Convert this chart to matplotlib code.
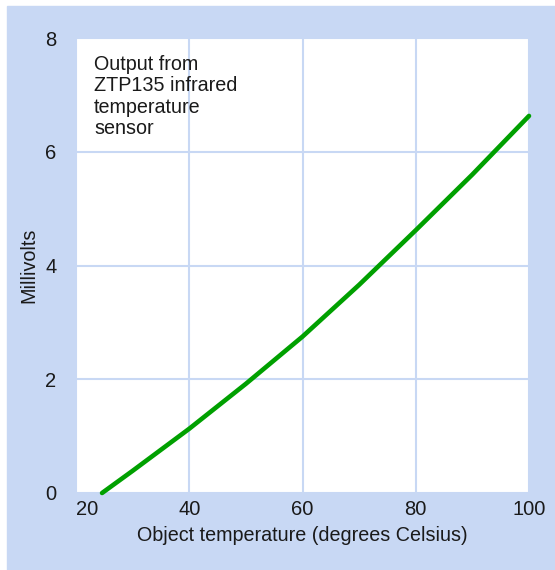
import matplotlib.pyplot as plt
from matplotlib.patches import Rectangle

# sensor output
temp_c = [24.6, 30, 40, 50, 60, 70, 80, 90, 100]
millivolts = [0.0, 0.39, 1.13, 1.92, 2.75, 3.66, 4.62, 5.60, 6.63]

x_ticks = [20, 40, 60, 80, 100]
y_ticks = [0, 2, 4, 6, 8]

blue = '#c8d8f4'
green = '#00a000'
ink = '#1a1a1a'

plt.rcParams['font.family'] = ['Liberation Sans', 'DejaVu Sans']

fig = plt.figure(figsize=(5.55, 5.70), dpi=100)
fig.patches.append(Rectangle((7 / 555, 0), 1, 564 / 570, transform=fig.transFigure,
                             color=blue, zorder=-1))

ax = fig.add_axes([76 / 555, 77 / 570, 453 / 555, 455 / 570])
ax.set_facecolor('white')
ax.plot(temp_c, millivolts, color=green, lw=3.3, solid_capstyle='round', zorder=3, clip_on=False)

ax.set_xlim(20, 100)
ax.set_ylim(0, 8)
ax.set_xticks(x_ticks)
ax.set_yticks(y_ticks)
ax.grid(True, color=blue, lw=1.5)
for s in ax.spines.values():
    s.set_visible(False)
ax.tick_params(length=0, labelsize=14.5, colors=ink)
ax.tick_params(axis='x', pad=5)
ax.tick_params(axis='y', pad=14)
ax.get_xticklabels()[0].set_horizontalalignment('left')

ax.set_xlabel('Object temperature (degrees Celsius)', fontsize=14.2, color=ink, labelpad=5)
ax.set_ylabel('Millivolts', fontsize=14.2, color=ink, labelpad=5)

ax.text(0.04, 0.963, 'Output from\nZTP135 infrared\ntemperature\nsensor', transform=ax.transAxes,
        ha='left', va='top', fontsize=14.2, color=ink, linespacing=1.17)

fig.savefig('out.png', dpi=100)
